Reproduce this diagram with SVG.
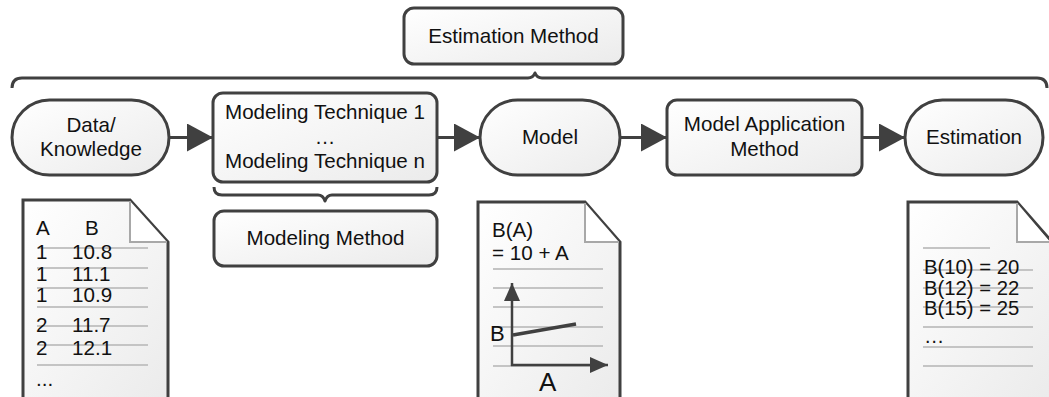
<svg xmlns="http://www.w3.org/2000/svg" width="1049" height="397" viewBox="0 0 1049 397">
<defs>
<linearGradient id="g" x1="0" y1="0" x2="1" y2="1">
<stop offset="0" stop-color="#ffffff"/>
<stop offset="1" stop-color="#ebebeb"/>
</linearGradient>
<marker id="ah" markerWidth="26" markerHeight="28" refX="26" refY="14" orient="auto" markerUnits="userSpaceOnUse">
<path d="M0,0 L26,14 L0,28 Z" fill="#404040"/>
</marker>
<marker id="sa" markerWidth="18" markerHeight="16" refX="18" refY="8" orient="auto" markerUnits="userSpaceOnUse">
<path d="M0,0 L18,8 L0,16 Z" fill="#404040"/>
</marker>
</defs>
<style>
.n{fill:url(#g);stroke:#404040;stroke-width:3}
.t{font-family:"Liberation Sans",Arial,sans-serif;font-size:20.6px;fill:#111;text-anchor:middle}
.d{font-family:"Liberation Sans",Arial,sans-serif;font-size:20.6px;fill:#111}
.c{fill:none;stroke:#404040;stroke-width:3}
.br{fill:none;stroke:#404040;stroke-width:3;stroke-linejoin:round}
.ln{stroke:#c4c4c4;stroke-width:2}
.fold{fill:#fff;stroke:#a8a8a8;stroke-width:2}
</style>

<g id="estimation-method">
<rect class="n" x="404" y="8" width="219" height="56" rx="10"/>
<text class="t" x="513.5" y="43">Estimation Method</text>
</g>

<g id="braces">
<path class="br" d="M12,88 Q12,78 22,78 L528,78 Q533,78 535,73 Q537,78 542,78 L1037,78 Q1047,78 1047,88"/>
<path class="br" d="M214,187 Q214,195 222,195 L318,195 Q323,195 325,201 Q327,195 332,195 L429,195 Q437,195 437,187"/>
</g>

<g id="data-knowledge">
<rect class="n" x="12" y="100" width="157" height="75" rx="37.5"/>
<text class="t" x="91" y="132">Data/</text>
<text class="t" x="91" y="156">Knowledge</text>
</g>

<g id="modeling-techniques">
<rect class="n" x="213" y="93" width="224" height="89" rx="10"/>
<text class="t" x="325" y="119">Modeling Technique 1</text>
<text class="t" x="325" y="144">…</text>
<text class="t" x="325" y="168">Modeling Technique n</text>
</g>

<g id="modeling-method">
<rect class="n" x="214" y="211" width="223" height="55" rx="10"/>
<text class="t" x="325.5" y="245">Modeling Method</text>
</g>

<g id="model">
<rect class="n" x="480" y="100" width="140" height="75" rx="37.5"/>
<text class="t" x="550" y="144">Model</text>
</g>

<g id="model-application-method">
<rect class="n" x="667" y="100" width="195" height="75" rx="10"/>
<text class="t" x="764.5" y="131">Model Application</text>
<text class="t" x="764.5" y="156">Method</text>
</g>

<g id="estimation">
<rect class="n" x="905" y="100" width="138" height="75" rx="37.5"/>
<text class="t" x="974" y="144">Estimation</text>
</g>

<g id="connectors">
<line class="c" x1="169" y1="137.5" x2="213" y2="137.5" marker-end="url(#ah)"/>
<line class="c" x1="437" y1="137.5" x2="480" y2="137.5" marker-end="url(#ah)"/>
<line class="c" x1="620" y1="137.5" x2="667" y2="137.5" marker-end="url(#ah)"/>
<line class="c" x1="862" y1="137.5" x2="905" y2="137.5" marker-end="url(#ah)"/>
</g>

<g id="doc-data">
<path class="n" d="M23,200 L130,200 L168,242 L168,400 L23,400 Z"/>
<path class="fold" d="M130,201 L130,242 L167,242"/>
<g class="ln">
<line x1="37" y1="248" x2="148" y2="248"/>
<line x1="37" y1="268" x2="148" y2="268"/>
<line x1="37" y1="288" x2="148" y2="288"/>
<line x1="37" y1="307" x2="148" y2="307"/>
<line x1="37" y1="326" x2="148" y2="326"/>
<line x1="37" y1="345" x2="148" y2="345"/>
<line x1="37" y1="365" x2="148" y2="365"/>
</g>
<text class="d"><tspan x="36" y="235">A</tspan><tspan x="85" y="235">B</tspan><tspan x="36" y="259">1</tspan><tspan x="72" y="259">10.8</tspan><tspan x="36" y="281">1</tspan><tspan x="72" y="281">11.1</tspan><tspan x="36" y="302">1</tspan><tspan x="72" y="302">10.9</tspan><tspan x="36" y="332">2</tspan><tspan x="72" y="332">11.7</tspan><tspan x="36" y="355">2</tspan><tspan x="72" y="355">12.1</tspan><tspan x="36" y="386">...</tspan></text>
</g>

<g id="doc-model">
<path class="n" d="M478,202 L585,202 L620,242 L620,400 L478,400 Z"/>
<path class="fold" d="M585,203 L585,242 L619,242"/>
<g class="ln">
<line x1="493" y1="269" x2="603" y2="269"/>
<line x1="493" y1="288" x2="603" y2="288"/>
<line x1="493" y1="307" x2="603" y2="307"/>
<line x1="493" y1="327" x2="603" y2="327"/>
<line x1="493" y1="346" x2="603" y2="346"/>
<line x1="493" y1="366" x2="603" y2="366"/>
</g>
<text class="d" x="492" y="237">B(A)</text>
<text class="d" x="492" y="260">= 10 + A</text>
<line x1="512" y1="366" x2="512" y2="283" stroke="#404040" stroke-width="2.5" marker-end="url(#sa)"/>
<line x1="511" y1="365" x2="608" y2="365" stroke="#404040" stroke-width="2.5" marker-end="url(#sa)"/>
<line x1="513" y1="335" x2="576" y2="324" stroke="#404040" stroke-width="3.5"/>
<text class="d" x="490" y="341" style="font-size:22px">B</text>
<text class="d" x="539" y="391" style="font-size:26px">A</text>
</g>

<g id="doc-estimation">
<path class="n" d="M908,202 L1017,202 L1052,242 L1052,400 L908,400 Z"/>
<path class="fold" d="M1017,203 L1017,242 L1050,242"/>
<g class="ln">
<line x1="923" y1="248" x2="990" y2="248"/>
<line x1="923" y1="270" x2="1033" y2="270"/>
<line x1="923" y1="288" x2="1033" y2="288"/>
<line x1="923" y1="307" x2="1033" y2="307"/>
<line x1="923" y1="327" x2="1033" y2="327"/>
<line x1="923" y1="347" x2="1033" y2="347"/>
<line x1="923" y1="366" x2="1033" y2="366"/>
</g>
<text class="d" style="font-size:20.3px"><tspan x="924" y="274">B(10) = 20</tspan><tspan x="924" y="294.5">B(12) = 22</tspan><tspan x="924" y="315">B(15) = 25</tspan><tspan x="924" y="343">…</tspan></text>
</g>
</svg>
